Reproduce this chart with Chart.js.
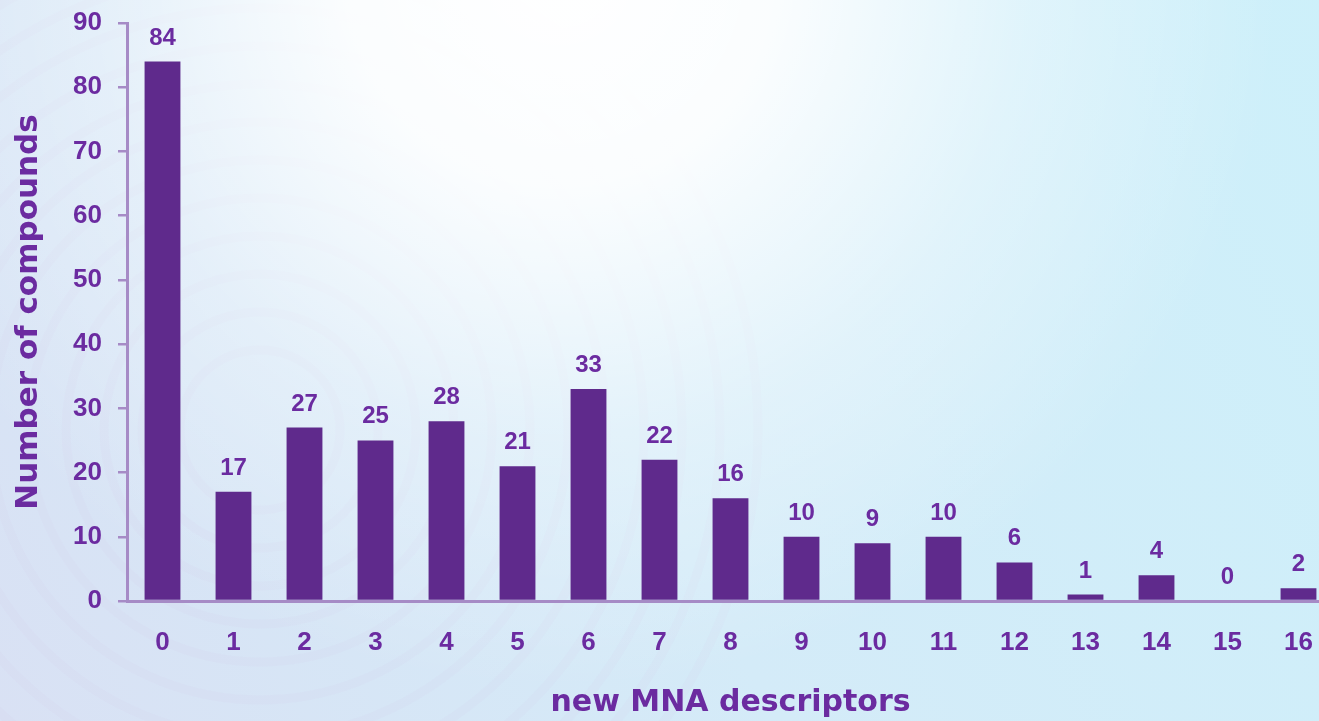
<!DOCTYPE html>
<html>
<head>
<meta charset="utf-8">
<title>new MNA descriptors</title>
<script src="https://cdn.jsdelivr.net/npm/chart.js@4/dist/chart.umd.min.js"></script>
<style>
  html, body { margin: 0; padding: 0; overflow: hidden; background: #d3eef8; }
  #wrap { width: 1319px; height: 721px; overflow: hidden; position: relative; }
  canvas { display: block; }
</style>
</head>
<body>
<div id="wrap"><canvas id="chart" width="1345" height="721"></canvas></div>
<script>
// Distribution of compounds by number of new MNA descriptors
const categories = ['0', '1', '2', '3', '4', '5', '6', '7', '8', '9', '10', '11', '12', '13', '14', '15', '16'];
const compounds = [84, 17, 27, 25, 28, 21, 33, 22, 16, 10, 9, 10, 6, 1, 4, 0, 2];
const yTickValues = [0, 10, 20, 30, 40, 50, 60, 70, 80, 90];

const xTitle = 'new MNA descriptors';
const yTitle = 'Number of compounds';

const BAR = '#5f2a8c';
const TEXT = '#6b2ba0';
const AXIS = '#a68bc6';
const TICK_FONT = { family: "'Liberation Sans', Arial, sans-serif", size: 26, weight: 'bold' };
const VALUE_FONT = "bold 24px 'Liberation Sans', Arial, sans-serif";

// soft backdrop: pale cyan with a bright glow near the top and faint ripples
const backdrop = {
  id: 'backdrop',
  beforeDraw(chart) {
    const { ctx, width, height } = chart;
    ctx.save();
    const base = ctx.createLinearGradient(0, height, width, 0);
    base.addColorStop(0, '#d9e1f4');
    base.addColorStop(0.45, '#d4ebf8');
    base.addColorStop(1, '#cdf0fa');
    ctx.fillStyle = base;
    ctx.fillRect(0, 0, width, height);

    ctx.lineWidth = 9;
    for (let r = 80; r <= 520; r += 38) {
      ctx.strokeStyle = 'rgba(214,180,222,0.07)';
      ctx.beginPath();
      ctx.arc(260, 430, r, 0, Math.PI * 2);
      ctx.stroke();
    }

    const glow = ctx.createRadialGradient(560, -30, 0, 560, -30, 720);
    glow.addColorStop(0, 'rgba(255,255,255,1)');
    glow.addColorStop(0.3, 'rgba(255,255,255,0.9)');
    glow.addColorStop(0.65, 'rgba(255,255,255,0.35)');
    glow.addColorStop(1, 'rgba(255,255,255,0)');
    ctx.fillStyle = glow;
    ctx.fillRect(0, 0, width, height);
    ctx.restore();
  }
};

// value printed above each bar
const valueLabels = {
  id: 'valueLabels',
  afterDatasetsDraw(chart) {
    const { ctx } = chart;
    const meta = chart.getDatasetMeta(0);
    const values = chart.data.datasets[0].data;
    ctx.save();
    ctx.font = VALUE_FONT;
    ctx.fillStyle = TEXT;
    ctx.textAlign = 'center';
    ctx.textBaseline = 'alphabetic';
    meta.data.forEach((bar, i) => {
      ctx.fillText(String(values[i]), bar.x, bar.y - 17);
    });
    ctx.restore();
  }
};

new Chart(document.getElementById('chart'), {
  type: 'bar',
  data: {
    labels: categories,
    datasets: [{
      data: compounds,
      backgroundColor: BAR,
      borderWidth: 0,
      barPercentage: 0.505,
      categoryPercentage: 1
    }]
  },
  options: {
    responsive: false,
    animation: false,
    devicePixelRatio: 1,
    layout: { padding: { left: 0, top: 23, right: 11, bottom: 0 } },
    plugins: {
      legend: { display: false },
      tooltip: { enabled: false },
      title: { display: false }
    },
    scales: {
      x: {
        type: 'category',
        offset: true,
        grid: { display: false, drawTicks: false },
        border: { display: true, color: AXIS, width: 3 },
        ticks: { color: TEXT, font: TICK_FONT, padding: 26, maxRotation: 0, autoSkip: false },
        title: {
          display: true,
          text: xTitle,
          color: TEXT,
          font: { family: "'DejaVu Sans', sans-serif", size: 30, weight: 'bold' },
          padding: { top: 0, bottom: 0 }
        },
        afterFit(scale) { scale.height = 120; }
      },
      y: {
        min: 0,
        max: 90,
        afterBuildTicks(scale) { scale.ticks = yTickValues.map(v => ({ value: v })); },
        grid: { drawOnChartArea: false, drawTicks: true, tickLength: 9, lineWidth: 2.5, color: AXIS },
        border: { display: true, color: AXIS, width: 3 },
        ticks: { color: TEXT, font: TICK_FONT, padding: 16 },
        title: {
          display: true,
          text: yTitle,
          color: TEXT,
          font: { family: "'DejaVu Sans', sans-serif", size: 31, weight: 'bold' },
          padding: { top: 10, bottom: 0 }
        },
        afterFit(scale) {
          scale.width = 127;
          scale.paddingTop = 0;
          scale.paddingBottom = 0;
        }
      }
    }
  },
  plugins: [backdrop, valueLabels]
});
</script>
</body>
</html>
